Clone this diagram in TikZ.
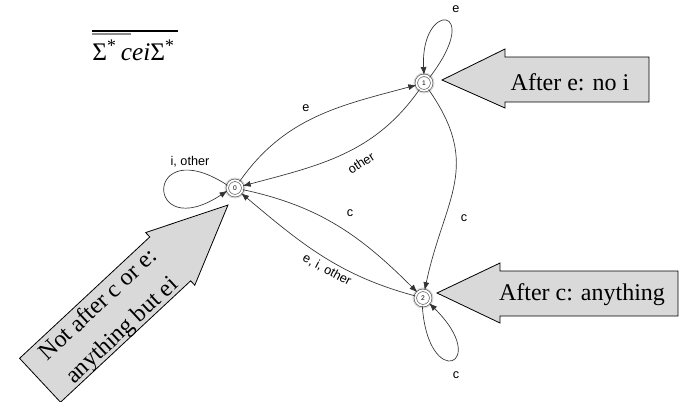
\documentclass[tikz,border=0pt]{standalone}
\usepackage{fontspec}
\setmainfont{Liberation Serif}
\newfontfamily\labelfont{Liberation Sans}
\usetikzlibrary{arrows.meta}

\begin{document}
\begin{tikzpicture}[x=0.75pt,y=-0.75pt,
  state/.style={circle,draw=black!70,double=white,double distance=1.4pt,
    fill=white,line width=0.45pt,minimum size=11.5pt,inner sep=0pt,
    font=\labelfont\fontsize{5}{5}\selectfont},
  halo/.style={fill=black!14},
  trans/.style={draw=black!80,line width=0.5pt,
    -{Latex[length=6pt,width=4.5pt]}},
  lbl/.style={font=\labelfont\fontsize{9.5}{10}\selectfont,inner sep=0pt},
  callout/.style={fill=black!15,draw=black,line width=0.6pt,line join=miter},
  calltext/.style={font=\fontsize{18}{26}\selectfont,inner sep=0pt,align=center}]

\useasboundingbox (0,0) rectangle (682,401);

% title: complement of Sigma* cei Sigma*
\node[anchor=base west,inner sep=0pt,font=\fontsize{19}{19}\selectfont] (title) at (92,60)
  {Σ\textsuperscript{*}\,\textit{cei}Σ\textsuperscript{*}};
\draw[line width=0.8pt] (92,31) -- (178,31);
\draw[line width=1.2pt,black!45] (92,34) -- (131,34);

% soft halo behind the states
\fill[halo] (235,188) circle (7.9pt);
\fill[halo] (424,83) circle (7.9pt);
\fill[halo] (423,298) circle (7.9pt);

% states
\node[state] (s0) at (235,188) {0};
\node[state] (s1) at (424,83) {1};
\node[state] (s2) at (423,298) {2};

% transitions
\draw[trans] (s0) to[out=55,in=195] (s1);
\draw[trans] (s1) to[out=235,in=15] (s0);
\draw[trans] (s0) to[out=-12,in=135] (s2);
\draw[trans] (s2) to[out=165,in=-40] (s0);
\draw[trans] (s1) to[out=-55,in=78,looseness=1.2] (s2);

% self loops
\draw[trans] (s0.160) .. controls +(-84,-55) and +(-84,55) .. (s0.200);
\draw[trans] (s1.45) .. controls (485,5) and (420,0) .. (s1.90);
\draw[trans] (s2.-95) .. controls (428,392) and (492,365) .. (s2.-40);

% transition labels
\node[lbl] (l01) at (306,108) {e};
\node[lbl,rotate=33] (l10) at (361,163) {other};
\node[lbl] (l02) at (350,213) {c};
\node[lbl,rotate=-28] (l20) at (327,270) {e, i, other};
\node[lbl] (l12) at (464,218) {c};
\node[lbl] (l00) at (190,162) {i, other};
\node[lbl] (l11) at (456,9) {e};
\node[lbl] (l22) at (456,375) {c};

% callouts
\draw[callout] (442,80) -- (505,49) -- (505,57) -- (649,57) -- (649,102)
  -- (505,102) -- (505,108) -- cycle;
\node[calltext] (c1) at (570,82) {After e: no i};

\draw[callout] (437,293) -- (500,263) -- (500,271) -- (678,271) -- (678,316)
  -- (500,316) -- (500,323) -- cycle;
\node[calltext] (c2) at (582,295) {After c: anything};

\begin{scope}[shift={(228,205)},rotate=43]
  \draw[callout] (0,0) -- (-79,-36) -- (-79,-30) -- (-257,-30) -- (-257,30)
    -- (-79,30) -- (-79,36) -- cycle;
  \node[calltext,rotate=43] (c0) at (-163,3) {Not after c or e:\\anything but ei};
\end{scope}
\end{tikzpicture}
\end{document}
